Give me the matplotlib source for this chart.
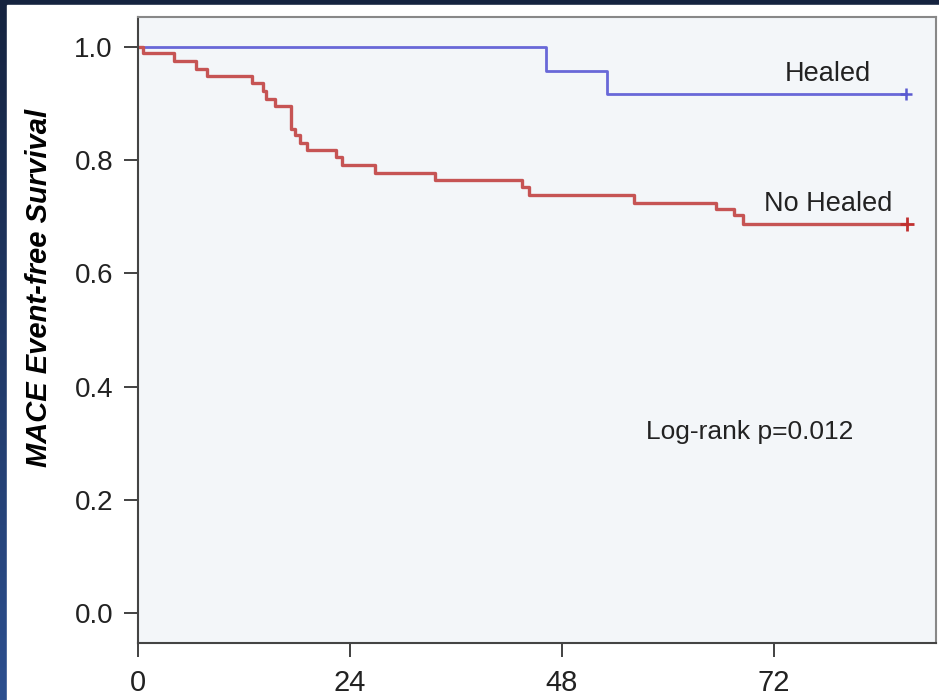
import numpy as np
import matplotlib
matplotlib.use('Agg')
import matplotlib.pyplot as plt
from matplotlib.patches import Rectangle

plt.rcParams['font.family'] = ['Liberation Sans', 'DejaVu Sans']

# Kaplan-Meier steps (months, survival)
healed_t = [0, 46.2, 53.1, 87.0]
healed_s = [1.0, 0.958, 0.917, 0.917]

noheal_t = [0, 0.6, 4.1, 6.6, 7.8, 12.9, 14.2, 14.5, 15.5, 17.3, 17.8, 18.3, 19.1,
            22.4, 23.1, 26.9, 33.6, 43.5, 44.3, 56.2, 65.5, 67.5, 68.5, 87.1]
noheal_s = [1.0, 0.989, 0.975, 0.962, 0.948, 0.936, 0.922, 0.909, 0.896, 0.856, 0.845,
            0.831, 0.818, 0.805, 0.792, 0.778, 0.765, 0.752, 0.739, 0.725, 0.714,
            0.703, 0.688, 0.688]

xticks = [0, 24, 48, 72]
yticks = [0.0, 0.2, 0.4, 0.6, 0.8, 1.0]

fig = plt.figure(figsize=(9.39, 7.0), dpi=100)
fig.patch.set_facecolor('#15233f')

# slide frame: blue gradient strip on the left, white panel
bg = fig.add_axes([0, 0, 1, 1], zorder=-2)
grad = np.linspace(0, 1, 256).reshape(-1, 1)
bg.imshow(grad, aspect='auto', cmap=matplotlib.colors.LinearSegmentedColormap.from_list(
    'slide', ['#15233f', '#2c4f8f']), extent=[0, 1, 0, 1], origin='upper')
bg.add_patch(Rectangle((7 / 939, 0), 1, 1 - 5 / 700, color='white', zorder=2))
bg.set_xlim(0, 1)
bg.set_ylim(0, 1)
bg.axis('off')

ax = fig.add_axes([138 / 939, 1 - 643 / 700, (936 - 138) / 939, (643 - 17) / 700])
ax.set_facecolor('#f3f6f9')

ax.step(healed_t, healed_s, where='post', color='#6868d8', lw=2)
ax.plot(healed_t[-1], healed_s[-1], marker='+', color='#5a5ad0', ms=9, mew=1.8)
ax.step(noheal_t, noheal_s, where='post', color='#c65454', lw=2.4)
ax.plot(noheal_t[-1], noheal_s[-1], marker='+', color='#c03030', ms=10, mew=2)

ax.set_xlim(0, 90.4)
ax.set_ylim(-0.053, 1.053)
ax.set_xticks(xticks)
ax.set_yticks(yticks)
ax.set_yticklabels(['%.1f' % v for v in yticks])
ax.tick_params(axis='y', length=10, width=1.3, labelsize=20, pad=8, color='#333333',
               labelcolor='#222222')
ax.tick_params(axis='x', length=10, width=1.3, labelsize=21, pad=9, color='#333333',
               labelcolor='#222222')

for side in ['top', 'right']:
    ax.spines[side].set_color('#888888')
    ax.spines[side].set_linewidth(1.5)
for side in ['left', 'bottom']:
    ax.spines[side].set_color('#444444')
    ax.spines[side].set_linewidth(1.5)

ax.text(78.2, 0.952, 'Healed', fontsize=19.5, ha='center', va='center', color='#222222')
ax.text(78.2, 0.722, 'No Healed', fontsize=19.5, ha='center', va='center', color='#222222')
ax.text(69.3, 0.320, 'Log-rank p=0.012', fontsize=19, ha='center', va='center', color='#222222')

fig.text(39 / 939, 1 - 288 / 700, 'MACE Event-free Survival', rotation=90, fontsize=21,
         fontweight='bold', fontstyle='italic', ha='center', va='center', color='black')

fig.savefig('out.png', dpi=100, facecolor=fig.get_facecolor())
